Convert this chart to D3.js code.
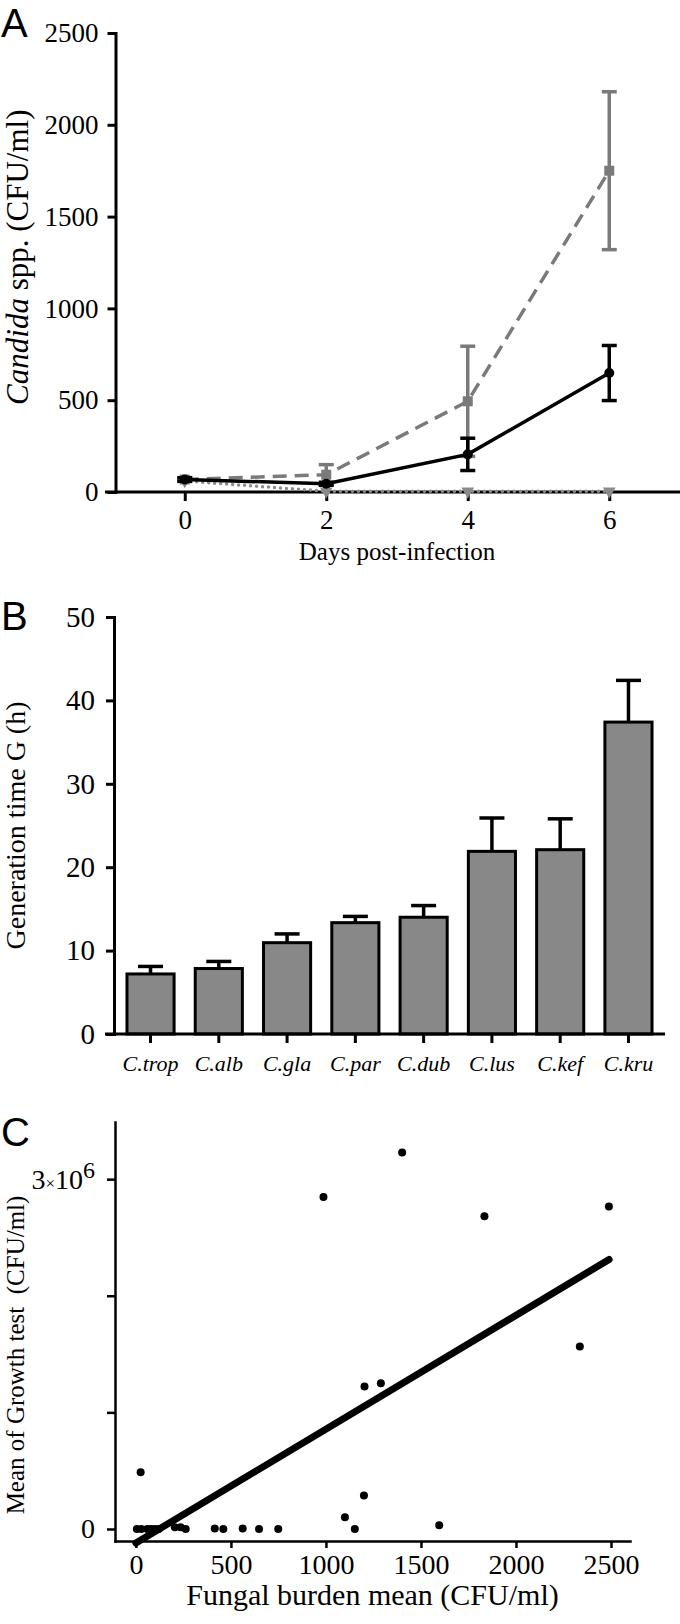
<!DOCTYPE html>
<html><head><meta charset="utf-8">
<script src="https://cdn.jsdelivr.net/npm/d3@7"></script>
<style>
body{margin:0;background:#fff}
svg{display:block}
</style>
</head><body>
<svg id="chart" width="680" height="1624"></svg>
<script>
// ---------- Panel A data ----------
const days = [0, 2, 4, 6];
const solidMean = [68, 45, 205, 648];
const solidErr = [10, 8, 88, 150];
const dashedMean = [68, 94, 494, 1750];
const dashedErr = [8, 55, 300, 430];
const dottedMean = [60, 4, 4, 4];
const yTicksA = [0, 500, 1000, 1500, 2000, 2500];
const xTicksA = [0, 2, 4, 6];

// ---------- Panel B data ----------
const species = ["C.trop", "C.alb", "C.gla", "C.par", "C.dub", "C.lus", "C.kef", "C.kru"];
const genTime = [7.2, 7.85, 10.95, 13.35, 14.0, 21.9, 22.1, 37.4];
const genTimeErr = [0.9, 0.85, 1.05, 0.75, 1.4, 4.0, 3.7, 5.0];
const yTicksB = [0, 10, 20, 30, 40, 50];

// ---------- Panel C data ----------
const burden = [5, 28, 60, 80, 100, 120, 205, 235, 262, 415, 460, 562, 648, 749,
                25, 1100, 1152, 1200, 1596, 1203, 1289, 987, 1401, 1834, 2336, 2489];
const growth = [0, 0, 0, 0, 0, 0, 15000, 15000, 0, 5000, 0, 5000, 0, 0,
                486000, 100000, 0, 288000, 32000, 1221000, 1250000, 2846000, 3229000, 2682000, 1565000, 2765000];
const fitX = [0, 2490];
const fitY = [-120000, 2311000];
const xTicksC = [0, 500, 1000, 1500, 2000, 2500];
const yTicksC = [0, 1000000, 2000000, 3000000];

const SERIF = "'Liberation Serif', 'Times New Roman', Times, serif";
const SANS = "'Liberation Sans', Arial, sans-serif";
const svg = d3.select("#chart");
const GRAY = "#7a7a7a";
const fmt = d3.format("d");

function styleAxis(g, sw, fs) {
  g.attr("font-family", null).attr("font-size", null);
  g.selectAll("path.domain").attr("stroke", "#000").attr("stroke-width", sw).attr("stroke-linecap", "square");
  g.selectAll(".tick line").attr("stroke", "#000").attr("stroke-width", sw);
  g.selectAll(".tick text").style("font-family", SERIF).style("font-size", fs + "px").attr("fill", "#000");
}
function label(g, txt, fs) {
  return g.append("text").style("font-family", SERIF).style("font-size", fs + "px").attr("fill", "#000").text(txt);
}

// Panel letters
[["A", 37], ["B", 630], ["C", 1146]].forEach(([t, y]) => {
  svg.append("text").attr("x", 1).attr("y", y).text(t)
    .style("font-family", SANS).style("font-size", "40px");
});

// ================= Panel A =================
const xA = d3.scaleLinear().domain([-1, 7]).range([114, 680]);
const yA = d3.scaleLinear().domain([0, 2500]).range([492, 33]);
const gA = svg.append("g");

const axAy = gA.append("g").attr("transform", `translate(${xA(-1) + 1.5},0)`)
  .call(d3.axisLeft(yA).tickValues(yTicksA).tickFormat(fmt).tickSize(8).tickPadding(9).tickSizeOuter(0));
styleAxis(axAy, 3, 27);

const axAx = gA.append("g").attr("transform", `translate(0,${yA(0)})`)
  .call(d3.axisBottom(xA).tickValues(xTicksA).tickFormat(fmt).tickSize(9).tickPadding(9).tickSizeOuter(0));
styleAxis(axAx, 3, 27);
axAx.select("path.domain").remove();
gA.append("line").attr("x1", xA(-1) - 9).attr("x2", xA(7)).attr("y1", yA(0)).attr("y2", yA(0))
  .attr("stroke", "#000").attr("stroke-width", 3);

const lineA = d3.line().x((d, i) => xA(days[i])).y(d => yA(d));

function errBars(g, mean, err, color, cap) {
  mean.forEach((m, i) => {
    if (!err[i]) return;
    const x = xA(days[i]);
    g.append("line").attr("x1", x).attr("x2", x).attr("y1", yA(m - err[i])).attr("y2", yA(m + err[i]))
      .attr("stroke", color).attr("stroke-width", 3.5);
    [m - err[i], m + err[i]].forEach(v => {
      g.append("line").attr("x1", x - cap / 2).attr("x2", x + cap / 2).attr("y1", yA(v)).attr("y2", yA(v))
        .attr("stroke", color).attr("stroke-width", 3.5);
    });
  });
}

// dotted series
gA.append("path").datum(dottedMean).attr("d", lineA).attr("fill", "none")
  .attr("stroke", "#8a8a8a").attr("stroke-width", 3.5).attr("stroke-linecap", "round").attr("stroke-dasharray", "0,6");
dottedMean.forEach((m, i) => {
  gA.append("path").attr("d", d3.symbol().type(d3.symbolTriangle).size(70)())
    .attr("transform", `translate(${xA(days[i])},${yA(m)}) rotate(180)`).attr("fill", "#8a8a8a");
});

// dashed series
errBars(gA, dashedMean, dashedErr, GRAY, 15);
gA.append("path").datum(dashedMean).attr("d", lineA).attr("fill", "none")
  .attr("stroke", GRAY).attr("stroke-width", 3.5).attr("stroke-dasharray", "14,8");
dashedMean.forEach((m, i) => {
  gA.append("rect").attr("x", xA(days[i]) - 5).attr("y", yA(m) - 5).attr("width", 10).attr("height", 10).attr("fill", GRAY);
});

// solid series
errBars(gA, solidMean, solidErr, "#000", 15);
gA.append("path").datum(solidMean).attr("d", lineA).attr("fill", "none")
  .attr("stroke", "#000").attr("stroke-width", 3.5);
solidMean.forEach((m, i) => {
  gA.append("circle").attr("cx", xA(days[i])).attr("cy", yA(m)).attr("r", 5).attr("fill", "#000");
});

// titles
label(gA, "Days post-infection", 25).attr("text-anchor", "middle")
  .attr("x", xA(3)).attr("y", 560);
const tA = gA.append("text").attr("text-anchor", "middle").style("font-family", SERIF).style("font-size", "31px")
  .attr("transform", `translate(28,${yA(1279)}) rotate(-90)`);
tA.append("tspan").style("font-style", "italic").text("Candida");
tA.append("tspan").text(" spp. (CFU/ml)");

// ================= Panel B =================
const xB = d3.scaleBand().domain(species).range([114, 665]).paddingInner(0.31).paddingOuter(0.19);
const yB = d3.scaleLinear().domain([0, 50]).range([1034, 617]);
const gB = svg.append("g");

species.forEach((s, i) => {
  const cx = xB(s) + xB.bandwidth() / 2;
  const top = genTime[i] + genTimeErr[i];
  gB.append("line").attr("x1", cx).attr("x2", cx).attr("y1", yB(genTime[i])).attr("y2", yB(top))
    .attr("stroke", "#000").attr("stroke-width", 3.5);
  gB.append("line").attr("x1", cx - 12.5).attr("x2", cx + 12.5).attr("y1", yB(top)).attr("y2", yB(top))
    .attr("stroke", "#000").attr("stroke-width", 3.5);
});
gB.selectAll("rect.bar").data(genTime).enter().append("rect").attr("class", "bar")
  .attr("x", (d, i) => xB(species[i])).attr("width", xB.bandwidth())
  .attr("y", d => yB(d)).attr("height", d => yB(0) - yB(d))
  .attr("fill", "#888888").attr("stroke", "#000").attr("stroke-width", 3);

const axBy = gB.append("g").attr("transform", `translate(${xB.range()[0]},0)`)
  .call(d3.axisLeft(yB).tickValues(yTicksB).tickFormat(fmt).tickSize(8).tickPadding(11).tickSizeOuter(0));
styleAxis(axBy, 3, 29);

const axBx = gB.append("g").attr("transform", `translate(0,${yB(0)})`)
  .call(d3.axisBottom(xB).tickSize(9).tickPadding(12).tickSizeOuter(0));
styleAxis(axBx, 3, 22);
axBx.selectAll(".tick text").style("font-style", "italic");
axBx.select("path.domain").remove();
gB.append("line").attr("x1", xB.range()[0] - 9).attr("x2", xB.range()[1]).attr("y1", yB(0)).attr("y2", yB(0))
  .attr("stroke", "#000").attr("stroke-width", 3);

label(gB, "Generation time G (h)", 28).attr("text-anchor", "middle")
  .attr("transform", `translate(25,${yB(25)}) rotate(-90)`);

// ================= Panel C =================
const xC = d3.scaleLinear().domain([-110, 2600]).range([115, 630]);
const yC = d3.scaleLinear().domain([-103000, 3490000]).range([1541, 1122]);
const gC = svg.append("g");

const axCy = gC.append("g").attr("transform", `translate(${xC(-110)},0)`)
  .call(d3.axisLeft(yC).tickValues(yTicksC).tickSize(8).tickPadding(12).tickSizeOuter(0)
    .tickFormat(d => d === 0 ? "0" : ""));
styleAxis(axCy, 2.5, 28);
axCy.selectAll(".tick text").filter(d => d === 3000000).each(function () {
  const t = d3.select(this);
  t.append("tspan").text("3");
  t.append("tspan").style("font-size", "17px").text("\u00d7");
  t.append("tspan").text("10");
  t.append("tspan").style("font-size", "24px").attr("dy", "-0.45em").text("6");
});

const axCx = gC.append("g").attr("transform", `translate(0,${yC(-103000)})`)
  .call(d3.axisBottom(xC).tickValues(xTicksC).tickFormat(fmt).tickSize(7).tickPadding(6).tickSizeOuter(0));
styleAxis(axCx, 2.5, 28);

gC.selectAll("circle.pt").data(burden).enter().append("circle").attr("class", "pt")
  .attr("cx", d => xC(d)).attr("cy", (d, i) => yC(growth[i])).attr("r", 4).attr("fill", "#000");

gC.append("line").attr("x1", xC(fitX[0])).attr("y1", yC(fitY[0])).attr("x2", xC(fitX[1])).attr("y2", yC(fitY[1]))
  .attr("stroke", "#000").attr("stroke-width", 7).attr("stroke-linecap", "round");

label(gC, "Fungal burden mean (CFU/ml)", 30).attr("text-anchor", "middle")
  .attr("x", (xC.range()[0] + xC.range()[1]) / 2).attr("y", 1605);
label(gC, "Mean of Growth test\u00a0 (CFU/ml)", 25).attr("text-anchor", "middle")
  .attr("transform", `translate(24,1355) rotate(-90)`);
</script>
</body></html>
